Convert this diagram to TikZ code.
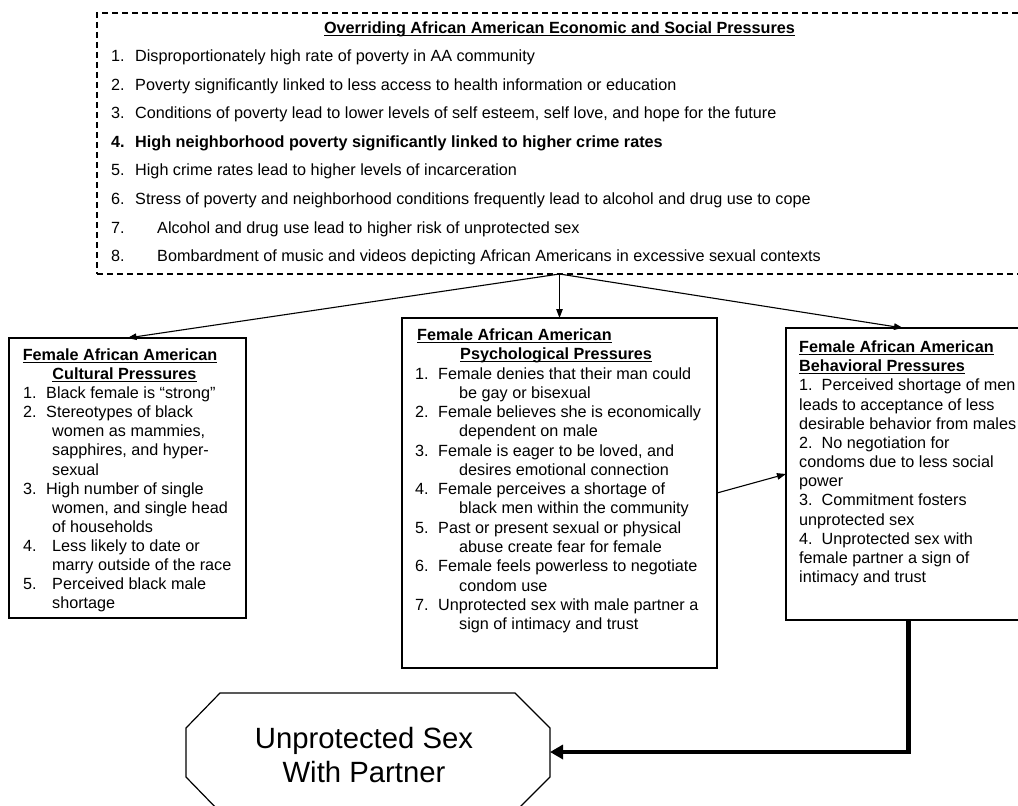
\documentclass[tikz,border=0pt]{standalone}
\usepackage{fontspec}
\setmainfont{Liberation Sans}
\usetikzlibrary{arrows.meta}
\newcommand\ulx[1]{\setbox0\hbox{#1}\rlap{\rule[-2.4pt]{\wd0}{1.1pt}}\box0}
\begin{document}
\begin{tikzpicture}[x=1pt,y=-1pt,
  box/.style={draw, line width=1.2pt, inner sep=0pt, outer sep=0pt, anchor=north west},
  dbox/.style={draw, line width=1.1pt, dash pattern=on 6pt off 4pt, inner sep=0pt, outer sep=0pt, anchor=north west},
  txt/.style={anchor=base west, inner sep=0pt, font=\fontsize{16.2}{19.2}\selectfont},
  ttl/.style={anchor=base west, inner sep=0pt, font=\fontsize{16.2}{19.2}\selectfont\bfseries},
  ctl/.style={anchor=base, inner sep=0pt, font=\fontsize{16.2}{19.2}\selectfont\bfseries},
  big/.style={anchor=base, inner sep=0pt, font=\fontsize{29.3}{34}\selectfont},
  arr/.style={line width=1.1pt, -{Triangle[length=9pt,width=6.5pt]}},
  bigarr/.style={line width=4.7pt, -{Triangle[length=13pt,width=14pt]}}
]
\useasboundingbox (0,0) rectangle (1018,806);
\begin{scope}
\clip (0,0) rectangle (1018,806);

% ---------- top dashed box ----------
\node[dbox, minimum width=940pt, minimum height=261pt] (top) at (97,13) {};
\node[ctl] (ttitle) at (559.5,33.5) {\ulx{Overriding African American Economic and Social Pressures}};
\node[txt] (tn1) at (111,61.5) {1.};
\node[txt] (tt1) at (135,61.5) {Disproportionately high rate of poverty in AA community};
\node[txt] (tn2) at (111,90.1) {2.};
\node[txt] (tt2) at (135,90.1) {Poverty significantly linked to less access to health information or education};
\node[txt] (tn3) at (111,118.7) {3.};
\node[txt] (tt3) at (135,118.7) {Conditions of poverty lead to lower levels of self esteem, self love, and hope for the future};
\node[ttl] (tn4) at (111,147.3) {4.};
\node[ttl] (tt4) at (135,147.3) {High neighborhood poverty significantly linked to higher crime rates};
\node[txt] (tn5) at (111,175.9) {5.};
\node[txt] (tt5) at (135,175.9) {High crime rates lead to higher levels of incarceration};
\node[txt] (tn6) at (111,204.5) {6.};
\node[txt] (tt6) at (135,204.5) {Stress of poverty and neighborhood conditions frequently lead to alcohol and drug use to cope};
\node[txt] (tn7) at (111,233.1) {7.};
\node[txt] (tt7) at (157,233.1) {Alcohol and drug use lead to higher risk of unprotected sex};
\node[txt] (tn8) at (111,261.7) {8.};
\node[txt] (tt8) at (157,261.7) {Bombardment of music and videos depicting African Americans in excessive sexual contexts};

% ---------- left box ----------
\node[box, minimum width=237pt, minimum height=280pt] (lbox) at (9,338) {};
\node[ctl] (lt1) at (120,360.5) {\ulx{Female African American}};
\node[ctl] (lt2) at (124.5,379.6) {\ulx{Cultural Pressures}};
\node[txt] (ln1) at (23,398.7) {1.};
\node[txt] (ll1) at (46,398.7) {Black female is “strong”};
\node[txt] (ln2) at (23,417.7) {2.};
\node[txt] (ll2) at (46,417.7) {Stereotypes of black};
\node[txt] (ll3) at (52,436.8) {women as mammies,};
\node[txt] (ll4) at (52,455.9) {sapphires, and hyper-};
\node[txt] (ll5) at (52,475.0) {sexual};
\node[txt] (ln3) at (23,494.1) {3.};
\node[txt] (ll6) at (46,494.1) {High number of single};
\node[txt] (ll7) at (52,513.1) {women, and single head};
\node[txt] (ll8) at (52,532.2) {of households};
\node[txt] (ln4) at (23,551.3) {4.};
\node[txt] (ll9) at (52,551.3) {Less likely to date or};
\node[txt] (ll10) at (52,570.4) {marry outside of the race};
\node[txt] (ln5) at (23,589.4) {5.};
\node[txt] (ll11) at (52,589.4) {Perceived black male};
\node[txt] (ll12) at (52,608.5) {shortage};

% ---------- middle box ----------
\node[box, minimum width=315pt, minimum height=350pt] (mbox) at (402,318) {};
\node[ttl] (mt1) at (417,340.5) {\ulx{Female African American}};
\node[ttl] (mt2) at (460,359.8) {\ulx{Psychological Pressures}};
\node[txt] (mn1) at (415,379.0) {1.};
\node[txt] (ml1) at (438,379.0) {Female denies that their man could};
\node[txt] (ml2) at (459,398.3) {be gay or bisexual};
\node[txt] (mn2) at (415,417.6) {2.};
\node[txt] (ml3) at (438,417.6) {Female believes she is economically};
\node[txt] (ml4) at (459,436.9) {dependent on male};
\node[txt] (mn3) at (415,456.1) {3.};
\node[txt] (ml5) at (438,456.1) {Female is eager to be loved, and};
\node[txt] (ml6) at (459,475.4) {desires emotional connection};
\node[txt] (mn4) at (415,494.7) {4.};
\node[txt] (ml7) at (438,494.7) {Female perceives a shortage of};
\node[txt] (ml8) at (459,513.9) {black men within the community};
\node[txt] (mn5) at (415,533.2) {5.};
\node[txt] (ml9) at (438,533.2) {Past or present sexual or physical};
\node[txt] (ml10) at (459,552.5) {abuse create fear for female};
\node[txt] (mn6) at (415,571.7) {6.};
\node[txt] (ml11) at (438,571.7) {Female feels powerless to negotiate};
\node[txt] (ml12) at (459,591.0) {condom use};
\node[txt] (mn7) at (415,610.3) {7.};
\node[txt] (ml13) at (438,610.3) {Unprotected sex with male partner a};
\node[txt] (ml14) at (459,629.5) {sign of intimacy and trust};

% ---------- right box ----------
\node[box, minimum width=234pt, minimum height=292pt] (rbox) at (786,328) {};
\node[ttl] (rt1) at (799,352.5) {\ulx{Female African American}};
\node[ttl] (rt2) at (799,371.7) {\ulx{Behavioral Pressures}};
\node[txt] (rl1) at (799,390.8) {1.\ \ Perceived shortage of men};
\node[txt] (rl2) at (799,410.0) {leads to acceptance of less};
\node[txt] (rl3) at (799,429.2) {desirable behavior from males};
\node[txt] (rl4) at (799,448.4) {2.\ \ No negotiation for};
\node[txt] (rl5) at (799,467.5) {condoms due to less social};
\node[txt] (rl6) at (799,486.7) {power};
\node[txt] (rl7) at (799,505.9) {3.\ \ Commitment fosters};
\node[txt] (rl8) at (799,525.0) {unprotected sex};
\node[txt] (rl9) at (799,544.2) {4.\ \ Unprotected sex with};
\node[txt] (rl10) at (799,563.4) {female partner a sign of};
\node[txt] (rl11) at (799,582.5) {intimacy and trust};

% ---------- octagon ----------
\draw[line width=1.2pt] (220,693) -- (515,693) -- (550,728) -- (550,777) -- (515,812)
  -- (220,812) -- (186,777) -- (186,728) -- cycle;
\coordinate (octE) at (550,752);
\node[big] (o1) at (364,748.5) {Unprotected Sex};
\node[big] (o2) at (364,782.5) {With Partner};

% ---------- connectors ----------
\coordinate (src) at (top.south -| mbox.north);
\draw[arr] (src) -- (lbox.north);
\draw[arr] (src) -- (mbox.north);
\draw[arr] (src) -- (rbox.north);
\draw[arr] (mbox.east) -- (rbox.west);
\draw[bigarr] ([xshift=5.5pt]rbox.south) |- (octE);
\end{scope}
\end{tikzpicture}
\end{document}
